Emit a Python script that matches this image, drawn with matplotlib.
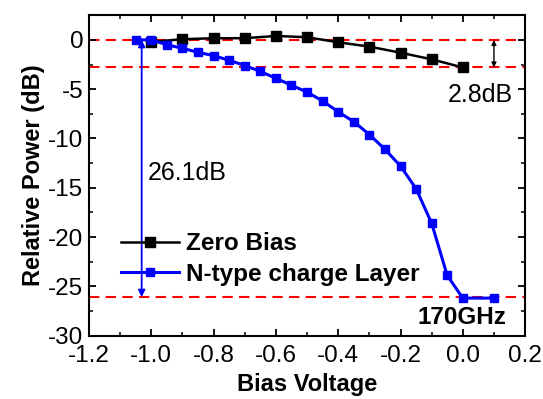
import matplotlib.pyplot as plt
import numpy as np
from matplotlib.ticker import MultipleLocator

plt.rcParams['font.family'] = ['Liberation Sans', 'DejaVu Sans']

# Zero bias
zero_v = [-1.0, -0.9, -0.8, -0.7, -0.6, -0.5, -0.4, -0.3, -0.2, -0.1, 0.0]
zero_p = [-0.2, 0.07, 0.17, 0.17, 0.4, 0.27, -0.24, -0.68, -1.3, -1.97, -2.8]

# N-type charge layer
ntype_v = [-1.05, -1.0, -0.95, -0.9, -0.85, -0.8, -0.75, -0.7, -0.65, -0.6, -0.55,
           -0.5, -0.45, -0.4, -0.35, -0.3, -0.25, -0.2, -0.15, -0.1, -0.05, 0.0, 0.1]
ntype_p = [0.0, 0.0, -0.5, -0.85, -1.26, -1.6, -2.07, -2.6, -3.2, -3.9, -4.6,
           -5.3, -6.2, -7.3, -8.3, -9.6, -11.1, -12.8, -15.1, -18.6, -23.9, -26.2, -26.2]

ref_lines = [0.0, -2.8, -26.1]

fig = plt.figure(figsize=(5.43, 3.99), dpi=100)
ax = fig.add_axes([0.164, 0.159, 0.803, 0.804])

for y in ref_lines:
    ax.axhline(y, color='red', linestyle=(0, (5, 3)), linewidth=1.5, zorder=1)

ax.plot(zero_v, zero_p, color='black', marker='s', markersize=6.5, linewidth=1.8,
        label='Zero Bias', zorder=3)
ax.plot(ntype_v, ntype_p, color='blue', marker='s', markersize=6, linewidth=2.2,
        label='N-type charge Layer', zorder=3)

# 26.1dB arrow
ax.annotate('', xy=(-1.031, 0.0), xytext=(-1.031, -26.1),
            arrowprops=dict(arrowstyle='<|-|>', color='blue', lw=1.3,
                            shrinkA=0, shrinkB=0, mutation_scale=10))
ax.text(-1.01, -13.5, '26.1dB', fontsize=18, va='center', ha='left')

# 2.8dB arrow
ax.annotate('', xy=(0.1, 0.0), xytext=(0.1, -2.8),
            arrowprops=dict(arrowstyle='<|-|>', color='black', lw=1.0,
                            shrinkA=0, shrinkB=0, mutation_scale=7))
ax.text(0.056, -5.6, '2.8dB', fontsize=18, va='center', ha='center')

ax.text(0.141, -28.2, '170GHz', fontsize=17.5, fontweight='bold', va='center', ha='right')

ax.set_xlim(-1.2, 0.2)
ax.set_ylim(-30, 2.55)
ax.xaxis.set_minor_locator(MultipleLocator(0.1))
ax.yaxis.set_minor_locator(MultipleLocator(2.5))
ax.set_xticks(np.arange(-1.2, 0.21, 0.2))
ax.set_xticklabels(['-1.2', '-1.0', '-0.8', '-0.6', '-0.4', '-0.2', '0.0', '0.2'])
ax.set_yticks([0, -5, -10, -15, -20, -25, -30])
ax.set_yticklabels(['0', '-5', '-10', '-15', '-20', '-25', '-30'])
ax.tick_params(which='both', direction='in', top=True, right=True, labelsize=17.5)
ax.tick_params(axis='x', pad=7)
ax.tick_params(axis='y', pad=4)
ax.tick_params(which='major', length=5, width=1.3)
ax.tick_params(which='minor', length=3, width=1.1)
for s in ax.spines.values():
    s.set_linewidth(1.5)

ax.set_xlabel('Bias Voltage', fontsize=17, fontweight='bold', labelpad=4)
ax.set_ylabel('Relative Power (dB)', fontsize=17, fontweight='bold', labelpad=2)

ax.legend(loc='lower left', bbox_to_anchor=(0.05, 0.125), frameon=False,
          prop={'weight': 'bold', 'size': 17.5}, handlelength=2.4,
          handletextpad=0.3, labelspacing=0.3, borderaxespad=0)

plt.savefig('out.png', dpi=100)
